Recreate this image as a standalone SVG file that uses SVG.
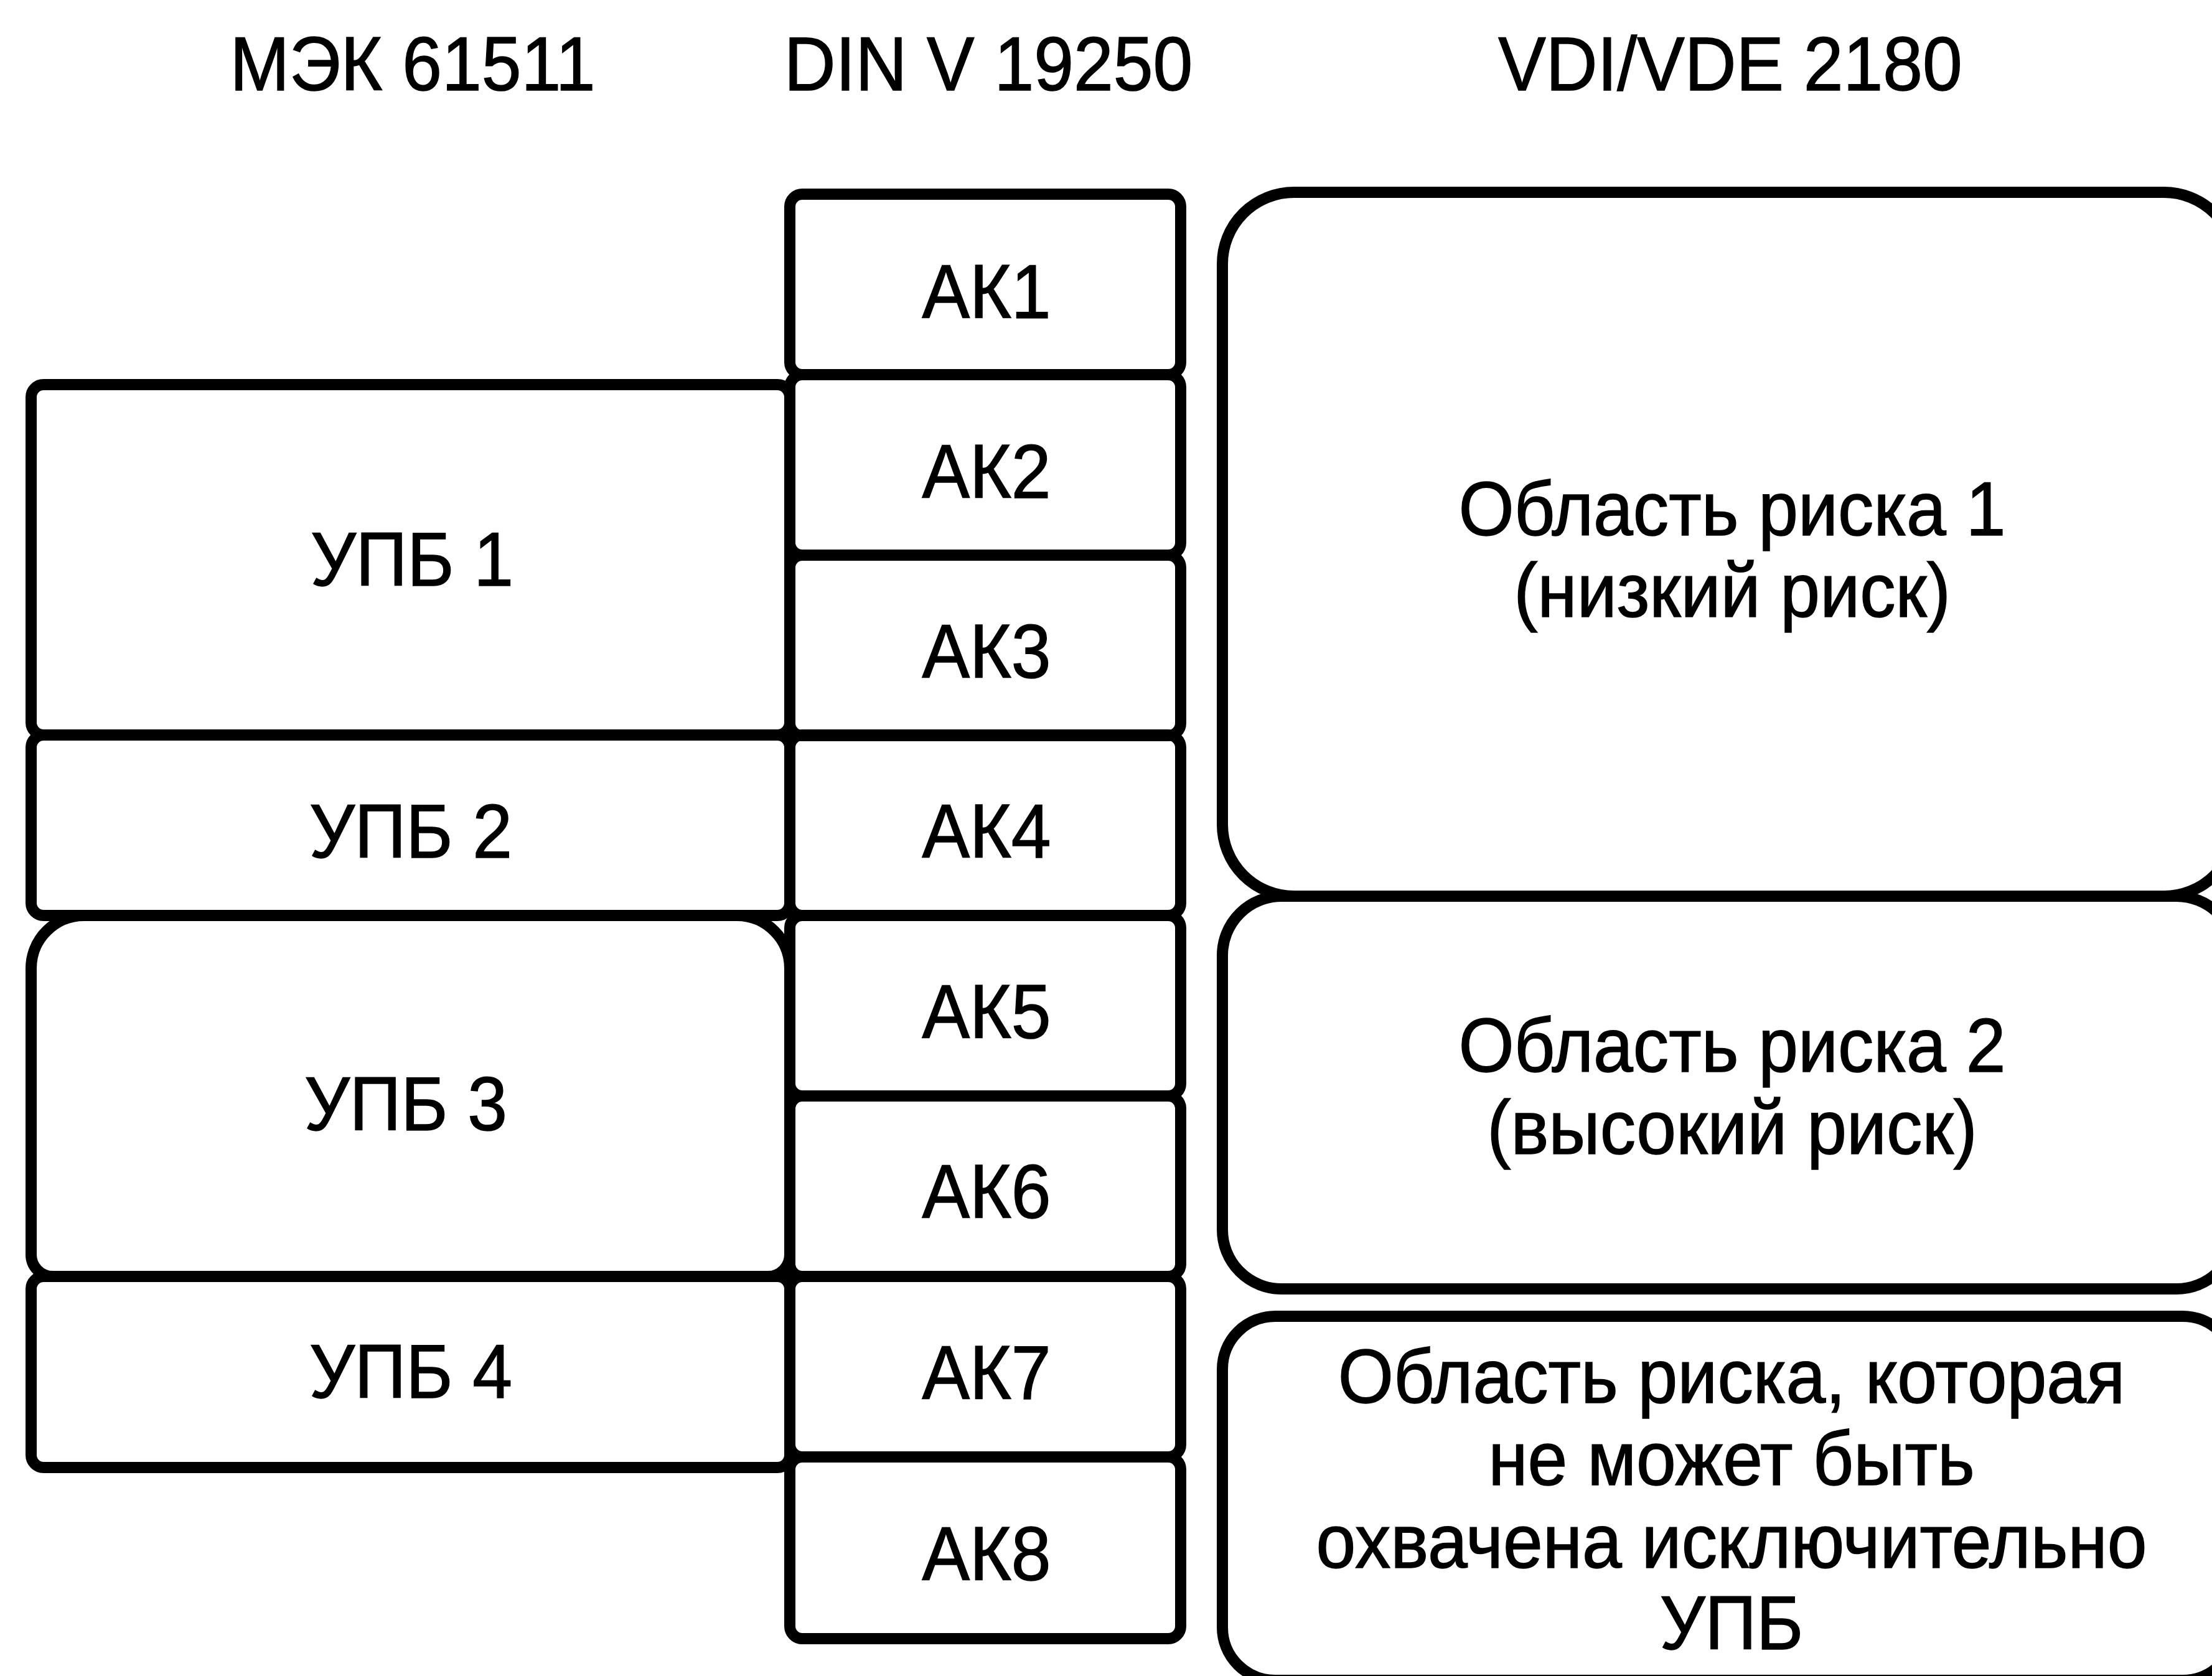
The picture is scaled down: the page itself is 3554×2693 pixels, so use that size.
<svg xmlns="http://www.w3.org/2000/svg" width="3554" height="2693" viewBox="0 0 3554 2693">
<style>
.b{fill:none;stroke:#000;stroke-width:18;stroke-linejoin:round}
.t{font-family:"Liberation Sans",Arial,sans-serif;font-size:122px;fill:#000;text-anchor:middle;stroke:#000;stroke-width:1.5}
</style>
<rect x="0" y="0" width="3554" height="2693" fill="#fff"/>
<g id="headers">
<text class="t" transform="translate(663 145) scale(0.94 1)">МЭК 61511</text>
<text class="t" transform="translate(1588 145) scale(0.94 1)">DIN V 19250</text>
<text class="t" transform="translate(2780 145) scale(0.94 1)">VDI/VDE 2180</text>
</g>
<g id="upb1"><rect class="b" x="50" y="618" width="1219" height="563" rx="20"/><text class="t" transform="translate(662 941) scale(0.94 1)">УПБ 1</text></g>
<g id="upb2"><rect class="b" x="50" y="1181" width="1219" height="290" rx="20"/><text class="t" transform="translate(660 1378) scale(0.94 1)">УПБ 2</text></g>
<g id="upb3"><path class="b" d="M135,1471 H1184 A85,85 0 0 1 1269,1556 V2016 A35,35 0 0 1 1234,2051 H85 A35,35 0 0 1 50,2016 V1556 A85,85 0 0 1 135,1471 Z"/><text class="t" transform="translate(652 1816) scale(0.94 1)">УПБ 3</text></g>
<g id="upb4"><rect class="b" x="50" y="2051" width="1219" height="307" rx="20"/><text class="t" transform="translate(660 2246) scale(0.94 1)">УПБ 4</text></g>
<g id="ak1"><rect class="b" x="1269" y="312" width="628" height="290" rx="20"/><text class="t" transform="translate(1585 511) scale(0.94 1)">АК1</text></g>
<g id="ak2"><rect class="b" x="1269" y="602" width="628" height="290" rx="20"/><text class="t" transform="translate(1585 800) scale(0.94 1)">АК2</text></g>
<g id="ak3"><rect class="b" x="1269" y="892" width="628" height="290" rx="20"/><text class="t" transform="translate(1585 1089) scale(0.94 1)">АК3</text></g>
<g id="ak4"><rect class="b" x="1269" y="1181" width="628" height="290" rx="20"/><text class="t" transform="translate(1585 1378) scale(0.94 1)">АК4</text></g>
<g id="ak5"><rect class="b" x="1269" y="1471" width="628" height="290" rx="20"/><text class="t" transform="translate(1585 1668) scale(0.94 1)">АК5</text></g>
<g id="ak6"><rect class="b" x="1269" y="1761" width="628" height="290" rx="20"/><text class="t" transform="translate(1585 1957) scale(0.94 1)">АК6</text></g>
<g id="ak7"><rect class="b" x="1269" y="2051" width="628" height="290" rx="20"/><text class="t" transform="translate(1585 2248) scale(0.94 1)">АК7</text></g>
<g id="ak8"><rect class="b" x="1269" y="2341" width="628" height="292" rx="20"/><text class="t" transform="translate(1585 2539) scale(0.94 1)">АК8</text></g>
<g id="risk1"><rect class="b" x="1964" y="309" width="1628" height="1131" rx="115"/>
<text class="t" transform="translate(2783 860) scale(0.94 1)">Область риска 1</text>
<text class="t" transform="translate(2783 991) scale(0.94 1)">(низкий риск)</text></g>
<g id="risk2"><rect class="b" x="1964" y="1440" width="1628" height="631" rx="95"/>
<text class="t" transform="translate(2783 1722) scale(0.94 1)">Область риска 2</text>
<text class="t" transform="translate(2783 1854) scale(0.94 1)">(высокий риск)</text></g>
<g id="risk3"><rect class="b" x="1964" y="2115" width="1628" height="585" rx="85"/>
<text class="t" transform="translate(2782 2254) scale(0.94 1)">Область риска, которая</text>
<text class="t" transform="translate(2782 2386) scale(0.94 1)">не может быть</text>
<text class="t" transform="translate(2782 2519) scale(0.94 1)">охвачена исключительно</text>
<text class="t" transform="translate(2782 2650) scale(0.94 1)">УПБ</text></g>
<g id="connectors"></g>
</svg>
